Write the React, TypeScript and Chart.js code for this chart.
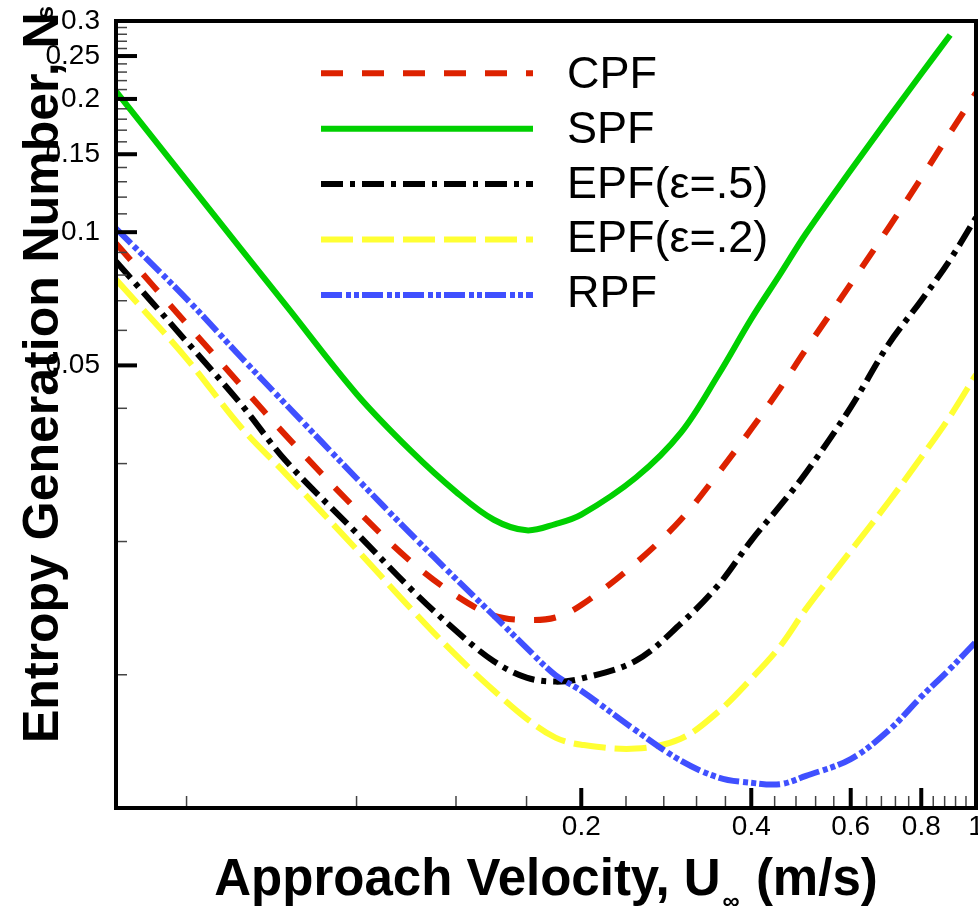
import React, { useEffect, useRef } from "react";
import { Chart, registerables } from "chart.js";

Chart.register(...registerables);

// ---- data ----
const VELOCITY = [0.03, 0.04, 0.05, 0.06, 0.08, 0.1, 0.12, 0.14, 0.16, 0.18, 0.2, 0.25, 0.3, 0.35, 0.4, 0.45, 0.5, 0.6, 0.7, 0.8, 0.9, 1.0];
const CPF = [0.0943, 0.0621, 0.045, 0.0347, 0.0236, 0.018, 0.0151, 0.0136, 0.0133, 0.01347, 0.01437, 0.0179, 0.0224, 0.0286, 0.0359, 0.0444, 0.0544, 0.0764, 0.1023, 0.1325, 0.1677, 0.2064];
const SPF = [0.208, 0.131, 0.0914, 0.0683, 0.0431, 0.032, 0.0259, 0.0224, 0.0212, 0.0219, 0.023, 0.0279, 0.0352, 0.0477, 0.0637, 0.0804, 0.0993, 0.138, 0.181, 0.228, 0.279, null];
const EPF_05 = [0.0859, 0.0566, 0.0408, 0.0304, 0.0209, 0.0156, 0.01257, 0.01073, 0.00985, 0.00965, 0.0098, 0.01076, 0.01304, 0.01596, 0.0201, 0.0241, 0.0286, 0.0402, 0.0558, 0.0701, 0.0867, 0.1079];
const EPF_02 = [0.0782, 0.0518, 0.0362, 0.0284, 0.0192, 0.01408, 0.01107, 0.00921, 0.00796, 0.00721, 0.00695, 0.00681, 0.00717, 0.00826, 0.0098, 0.0116, 0.01409, 0.01905, 0.02457, 0.031, 0.0384, 0.0477];
const RPF = [0.1019, 0.0707, 0.0521, 0.0408, 0.0278, 0.02075, 0.01647, 0.0136, 0.0115, 0.00998, 0.0092, 0.00748, 0.0064, 0.00586, 0.0057, 0.00566, 0.00591, 0.00645, 0.00748, 0.00892, 0.01032, 0.01188];

const SERIES_LABELS = ["CPF", "SPF", "EPF(ε=.5)", "EPF(ε=.2)", "RPF"];

const X_MIN = 0.03;
const X_MAX = 1;
const Y_MIN = 0.005;
const Y_MAX = 0.3;
const X_MAJOR_TICKS = [0.2, 0.4, 0.6, 0.8, 1];
const X_MINOR_TICKS = [0.04, 0.08, 0.12, 0.16, 0.24, 0.28, 0.32, 0.36, 0.44, 0.48, 0.52, 0.56, 0.64, 0.68, 0.72, 0.76, 0.84, 0.88, 0.92, 0.96];
const Y_MAJOR_TICKS = [0.05, 0.1, 0.15, 0.2, 0.25, 0.3];
const Y_MINOR_TICKS = [0.01, 0.02, 0.03, 0.04, 0.06, 0.07, 0.08, 0.09, 0.11, 0.12, 0.13, 0.14, 0.16, 0.17, 0.18, 0.19, 0.21, 0.22, 0.23, 0.24, 0.26, 0.27, 0.28, 0.29];

const X_TITLE = "Approach Velocity, U";
const X_TITLE_SUB = "∞";
const X_TITLE_UNIT = " (m/s)";
const Y_TITLE = "Entropy Generation Number, N";
const Y_TITLE_SUB = "s";

// ---- styles ----
const FONT = '"Liberation Sans", Arial, Helvetica, sans-serif';
const STYLES = [
  { color: "#dd2200", dash: [22, 19] },
  { color: "#00d000", dash: [] },
  { color: "#000000", dash: [22, 7, 5, 7] },
  { color: "#ffff33", dash: [32, 9] },
  { color: "#4050ff", dash: [21, 4, 5, 3, 5, 3] },
];
const SERIES = [CPF, SPF, EPF_05, EPF_02, RPF];

const decorPlugin = {
  id: "decor",
  afterDraw(chart: any) {
    const { ctx, chartArea: a, scales } = chart;
    const xs = scales.x;
    const ys = scales.y;
    ctx.save();
    ctx.lineCap = "butt";
    // inward tick marks
    for (const t of xs.ticks) {
      const px = xs.getPixelForValue(t.value);
      const major = X_MAJOR_TICKS.includes(t.value);
      ctx.beginPath();
      ctx.strokeStyle = major ? "#000" : "#444";
      ctx.lineWidth = major ? 4 : 1.5;
      ctx.moveTo(px, a.bottom);
      ctx.lineTo(px, a.bottom - (major ? 20 : 12));
      ctx.stroke();
    }
    for (const t of ys.ticks) {
      const py = ys.getPixelForValue(t.value);
      const major = Y_MAJOR_TICKS.includes(t.value);
      ctx.beginPath();
      ctx.strokeStyle = major ? "#000" : "#444";
      ctx.lineWidth = major ? 4 : 1.5;
      ctx.moveTo(a.left, py);
      ctx.lineTo(a.left + (major ? 21 : 11), py);
      ctx.stroke();
    }
    // frame
    ctx.strokeStyle = "#000";
    ctx.lineWidth = 4;
    ctx.strokeRect(a.left, a.top, a.right - a.left, a.bottom - a.top);

    // legend
    chart.data.datasets.forEach((ds: any, i: number) => {
      const ly = 73.3 + i * 55.4;
      ctx.beginPath();
      ctx.setLineDash(ds.borderDash || []);
      ctx.strokeStyle = ds.borderColor;
      ctx.lineWidth = ds.borderWidth;
      ctx.moveTo(321, ly);
      ctx.lineTo(533, ly);
      ctx.stroke();
      ctx.setLineDash([]);
      ctx.fillStyle = "#000";
      ctx.font = `45px ${FONT}`;
      ctx.textAlign = "left";
      ctx.textBaseline = "alphabetic";
      ctx.fillText(ds.label, 567, 88.3 + i * 54.6);
    });

    // x title
    ctx.fillStyle = "#000";
    ctx.textBaseline = "alphabetic";
    ctx.textAlign = "left";
    const mainFont = `bold 51px ${FONT}`;
    const subFont = `bold 24px ${FONT}`;
    ctx.font = mainFont;
    const w1 = ctx.measureText(X_TITLE).width;
    const w3 = ctx.measureText(X_TITLE_UNIT).width;
    ctx.font = subFont;
    const w2 = ctx.measureText(X_TITLE_SUB).width + 4;
    const total = w1 + w2 + w3;
    const x0 = (a.left + a.right) / 2 - total / 2;
    const by = a.bottom + 87;
    ctx.font = mainFont;
    ctx.fillText(X_TITLE, x0, by);
    ctx.font = subFont;
    ctx.fillText(X_TITLE_SUB, x0 + w1 + 2, by + 14);
    ctx.font = mainFont;
    ctx.fillText(X_TITLE_UNIT, x0 + w1 + w2, by);

    // y title
    ctx.save();
    ctx.translate(a.left - 58, a.bottom - 65);
    ctx.rotate(-Math.PI / 2);
    ctx.font = `bold 50px ${FONT}`;
    ctx.fillText(Y_TITLE, 0, 0);
    const wy = ctx.measureText(Y_TITLE).width;
    ctx.font = `bold 24px ${FONT}`;
    ctx.fillText(Y_TITLE_SUB, wy - 7, -5);
    ctx.restore();

    ctx.restore();
  },
};

export default function App() {
  const ref = useRef<HTMLCanvasElement | null>(null);

  useEffect(() => {
    if (!ref.current) return;
    const datasets = SERIES.map((vals, i) => ({
      label: SERIES_LABELS[i],
      data: VELOCITY.map((v, j) => ({ x: v, y: vals[j] })),
      borderColor: STYLES[i].color,
      backgroundColor: STYLES[i].color,
      borderDash: STYLES[i].dash,
      borderWidth: 6,
      pointRadius: 0,
      fill: false,
      tension: 0.35,
      spanGaps: false,
      order: SERIES.length - 1 - i,
    }));

    const chart = new Chart(ref.current, {
      type: "line",
      data: { datasets },
      options: {
        responsive: false,
        animation: false,
        layout: { padding: { top: 21, right: 2, left: 0, bottom: 0 } },
        plugins: { legend: { display: false }, tooltip: { enabled: false } },
        scales: {
          x: {
            type: "logarithmic",
            position: "bottom",
            min: X_MIN,
            max: X_MAX,
            grid: { display: false, drawTicks: false },
            border: { display: false },
            ticks: {
              autoSkip: false,
              maxRotation: 0,
              padding: 2,
              color: "#000",
              font: { family: FONT, size: 28 },
              callback: (v: any) => (X_MAJOR_TICKS.includes(Number(v)) ? String(v) : ""),
            },
            afterBuildTicks: (s: any) => {
              s.ticks = [...X_MINOR_TICKS, ...X_MAJOR_TICKS].sort((p, q) => p - q).map((v) => ({ value: v }));
            },
            afterFit: (s: any) => {
              s.height = 98;
              s.paddingLeft = 0;
              s.paddingRight = 0;
            },
          },
          y: {
            type: "logarithmic",
            position: "left",
            min: Y_MIN,
            max: Y_MAX,
            grid: { display: false, drawTicks: false },
            border: { display: false },
            ticks: {
              autoSkip: false,
              padding: 16,
              color: "#000",
              font: { family: FONT, size: 28 },
              callback: (v: any) => (Y_MAJOR_TICKS.includes(Number(v)) ? String(v) : ""),
            },
            afterBuildTicks: (s: any) => {
              s.ticks = [...Y_MINOR_TICKS, ...Y_MAJOR_TICKS].sort((p, q) => p - q).map((v) => ({ value: v }));
            },
            afterFit: (s: any) => {
              s.width = 116;
              s.paddingTop = 0;
              s.paddingBottom = 0;
            },
          },
        },
      },
      plugins: [decorPlugin],
    } as any);

    return () => chart.destroy();
  }, []);

  return (
    <div style={{ position: "fixed", left: 0, top: 0, width: 978, height: 906, background: "#fff" }}>
      <canvas ref={ref} width={978} height={906} style={{ display: "block" }} />
    </div>
  );
}
